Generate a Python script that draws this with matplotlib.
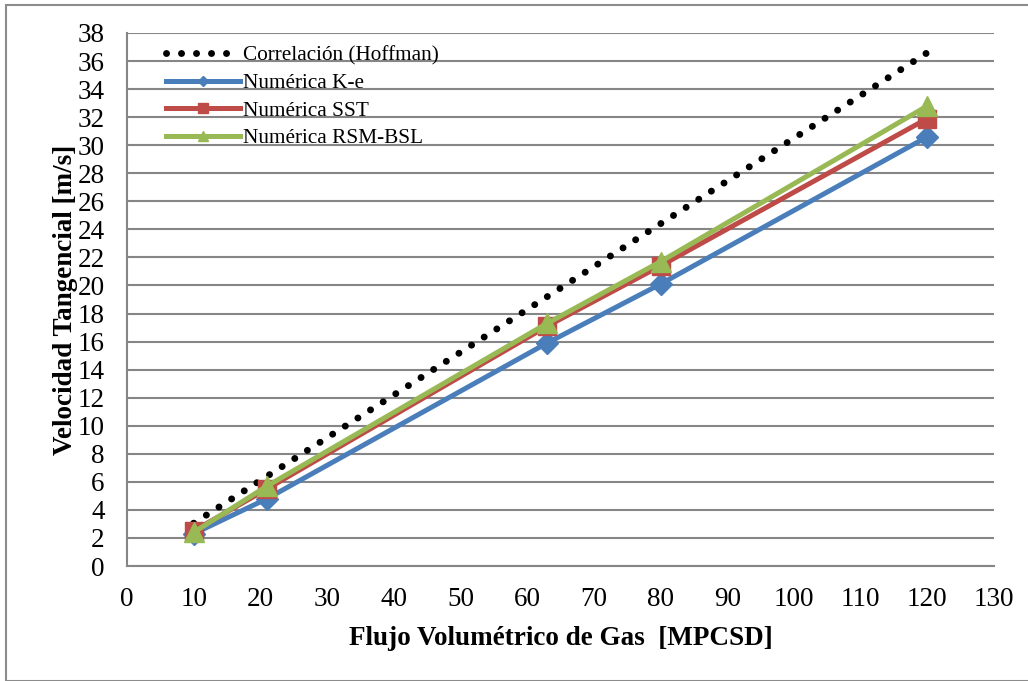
import matplotlib
matplotlib.use("Agg")
import matplotlib.pyplot as plt
from matplotlib.patches import Rectangle

# Gas flow rate [MPCSD]
flujo = [10, 21, 63, 80, 120]

# Tangential velocity [m/s]
hoffman = [3.05, 6.4, 19.2, 24.4, 36.6]
k_e = [2.3, 4.8, 15.9, 20.1, 30.6]
sst = [2.5, 5.5, 17.1, 21.4, 31.9]
rsm_bsl = [2.4, 5.7, 17.3, 21.7, 32.8]

series_labels = ["Correlación (Hoffman)", "Numérica K-e", "Numérica SST", "Numérica RSM-BSL"]
x_ticks = list(range(0, 131, 10))
y_ticks = list(range(0, 39, 2))

plt.rcParams["font.family"] = ["Liberation Serif", "DejaVu Serif"]

fig = plt.figure(figsize=(10.28, 6.81), dpi=100)
ax = fig.add_axes([127 / 1028, 1 - 566 / 681, 867 / 1028, 533 / 681])

# Chart-area frame
fig.patches.append(Rectangle((6 / 1028, 0), 1.2, 1 - 5 / 681, transform=fig.transFigure,
                             fill=False, edgecolor="#8c8c8c", linewidth=1.5, zorder=0))

grid_col = "#868686"
ax.plot(flujo, hoffman, color="black", linewidth=5.0, linestyle=(0, (0.01, 2.15)),
        dash_capstyle="round", label=series_labels[0], zorder=2)
ax.plot(flujo, k_e, color="#4A7EBB", linewidth=3.6, marker="D", markersize=11,
        label=series_labels[1], zorder=3)
ax.plot(flujo, sst, color="#BE4B48", linewidth=3.6, marker="s", markersize=13,
        label=series_labels[2], zorder=4)
ax.plot(flujo, rsm_bsl, color="#98B954", linewidth=3.6, marker="^", markersize=14,
        label=series_labels[3], zorder=5)

ax.set_xlim(0, 130)
ax.set_ylim(0, 38)
ax.set_xticks(x_ticks)
ax.set_yticks(y_ticks)
ax.tick_params(length=0, labelsize=19.5)
ax.tick_params(axis="x", pad=15)
ax.tick_params(axis="y", pad=16)
ax.yaxis.grid(True, color=grid_col, linewidth=1.5)
ax.set_axisbelow(True)
for side in ("top", "right"):
    ax.spines[side].set_visible(False)
for side in ("left", "bottom"):
    ax.spines[side].set_color(grid_col)
    ax.spines[side].set_linewidth(1.5)

ax.set_xlabel("Flujo Volumétrico de Gas  [MPCSD]", fontsize=19.5, fontweight="bold", labelpad=10)
ax.set_ylabel("Velocidad Tangencial [m/s]", fontsize=19.5, fontweight="bold", labelpad=0)

leg = ax.legend(loc="upper left", bbox_to_anchor=(0.03, 1.0), fontsize=15.3, frameon=False,
                handlelength=3.5, handletextpad=0.15, labelspacing=0.36, markerscale=0.5,
                borderaxespad=0.2)

fig.savefig("out.png", dpi=100)
